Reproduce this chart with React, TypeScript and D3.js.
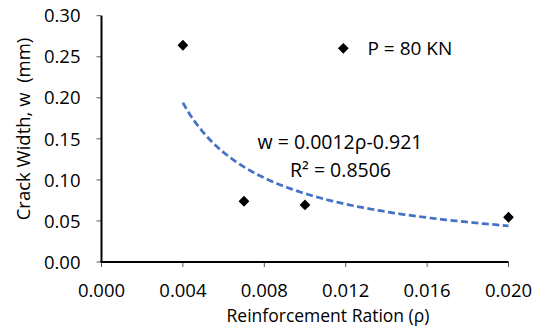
import React from 'react'
import * as d3 from 'd3'

const ratios = [0.004, 0.007, 0.01, 0.02]
const widths = [0.264, 0.074, 0.0695, 0.0545]
const xTicks = [0, 0.004, 0.008, 0.012, 0.016, 0.02]
const yTicks = [0, 0.05, 0.1, 0.15, 0.2, 0.25, 0.3]
// power trendline shown on the chart: w = 0.0012 * p^-0.921
const trendA = 0.0012
const trendB = -0.921

const W = 545, H = 329
const margin = { top: 15.7, right: 36.5, bottom: 67, left: 101.5 }
const font = "'Open Sans', sans-serif"

export default function App() {
  const x = d3.scaleLinear().domain([0, 0.02]).range([margin.left, W - margin.right])
  const y = d3.scaleLinear().domain([0, 0.3]).range([H - margin.bottom, margin.top])

  const trendPts = d3.range(0, 101).map(i => {
    const p = 0.004 + (0.016 * i) / 100
    return [p, trendA * Math.pow(p, trendB)] as [number, number]
  })
  const trendLine = d3.line<[number, number]>().x(d => x(d[0])).y(d => y(d[1]))(trendPts)
  const diamond = d3.symbol().type(d3.symbolDiamond2).size(74)()

  return (
    <svg width={W} height={H} style={{ position: 'absolute', left: 0, top: 0, background: '#fff' }} fontFamily={font} fill="#000">
      {yTicks.map(t => (
        <g key={'y' + t}>
          <line x1={margin.left - 5} x2={margin.left} y1={y(t)} y2={y(t)} stroke="#595959" strokeWidth={1} />
          <text x={margin.left - 21} y={y(t)} dy="0.36em" textAnchor="end" fontSize={18.5}>{t.toFixed(2)}</text>
        </g>
      ))}
      {xTicks.map(t => (
        <g key={'x' + t}>
          <line x1={x(t)} x2={x(t)} y1={y(0)} y2={y(0) + 5} stroke="#595959" strokeWidth={1} />
          <text x={x(t)} y={296.5} textAnchor="middle" fontSize={18.5}>{t.toFixed(3)}</text>
        </g>
      ))}
      <line x1={margin.left} x2={margin.left} y1={y(0.3)} y2={y(0)} stroke="#000" strokeWidth={2} />
      <line x1={margin.left - 1} x2={x(0.02)} y1={y(0)} y2={y(0)} stroke="#000" strokeWidth={2} />

      <path d={trendLine ?? ''} fill="none" stroke="#4472C4" strokeWidth={2.75} strokeDasharray="7 3.5" />

      {ratios.map((r, i) => (
        <path key={i} d={diamond ?? ''} transform={`translate(${x(r)},${y(widths[i])})`} fill="#000" />
      ))}

      <path d={diamond ?? ''} transform="translate(343.3,48.3)" fill="#000" />
      <text x={367.5} y={55} fontSize={19}>P = 80 KN</text>

      <text x={340} y={148.5} textAnchor="middle" fontSize={19.5}>w = 0.0012ρ-0.921</text>
      <text x={340.5} y={176.7} textAnchor="middle" fontSize={19.5}>R² = 0.8506</text>

      <text transform={`translate(30,129) rotate(-90)`} textAnchor="middle" fontSize={18.5}>{'Crack Width, w\u00A0 (mm)'}</text>
      <text x={328} y={322} textAnchor="middle" fontSize={17.5}>Reinforcement Ration (ρ)</text>
    </svg>
  )
}
